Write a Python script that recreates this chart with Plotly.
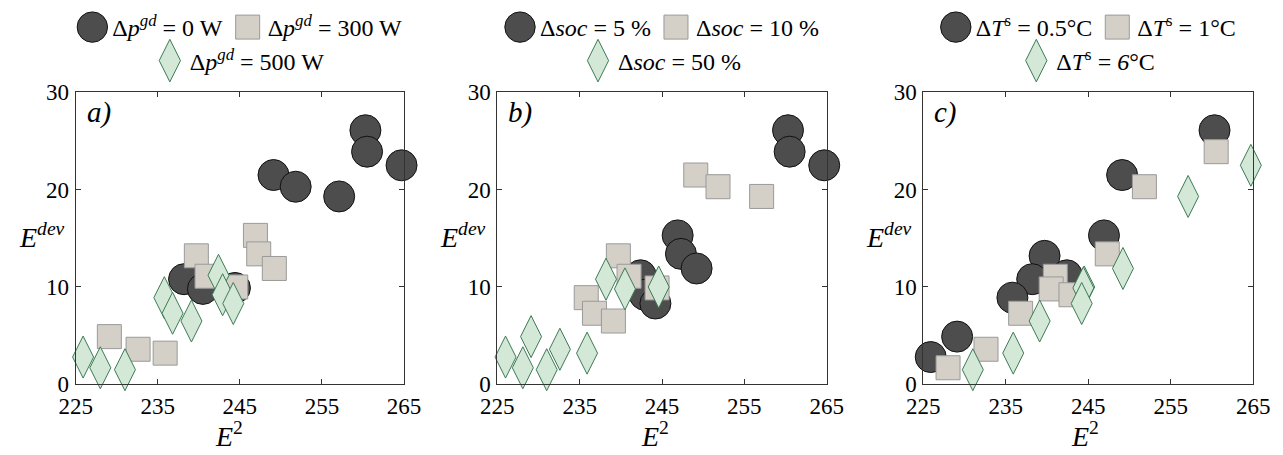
import plotly.graph_objects as go

# ---------------- data (E^2 vs E^dev) ----------------
# panel a) grouped by Δp^gd
a_circle_x = [260.3, 260.5, 264.7, 249.1, 251.8, 257.1, 238.2, 240.5, 244.4]
a_circle_y = [26.1, 23.9, 22.5, 21.5, 20.3, 19.3, 10.8, 9.8, 9.9]
a_square_x = [246.9, 247.3, 249.2, 239.7, 241.0, 244.5, 229.1, 232.6, 235.9]
a_square_y = [15.3, 13.4, 11.9, 13.2, 11.1, 10.0, 4.9, 3.6, 3.2]
a_diamond_x = [225.9, 228.0, 231.0, 235.8, 236.8, 239.1, 242.4, 242.9, 244.2]
a_diamond_y = [2.8, 1.7, 1.5, 8.9, 7.3, 6.5, 11.2, 9.2, 8.3]

# panel b) grouped by Δsoc
b_circle_x = [260.3, 260.5, 264.7, 246.9, 247.3, 249.2, 242.4, 242.9, 244.2]
b_circle_y = [26.1, 23.9, 22.5, 15.3, 13.4, 11.9, 11.2, 9.2, 8.3]
b_square_x = [249.1, 251.8, 257.1, 239.7, 241.0, 244.4, 235.8, 236.8, 239.1]
b_square_y = [21.5, 20.3, 19.3, 13.2, 11.1, 9.9, 8.9, 7.3, 6.5]
b_diamond_x = [238.2, 240.5, 244.6, 226.0, 228.1, 229.1, 231.0, 232.6, 235.9]
b_diamond_y = [10.8, 9.8, 10.0, 2.8, 1.7, 4.9, 1.5, 3.6, 3.2]

# panel c) grouped by ΔT^s
c_circle_x = [260.3, 249.1, 246.9, 239.7, 238.2, 242.4, 235.8, 229.1, 225.9]
c_circle_y = [26.1, 21.5, 15.3, 13.2, 10.8, 11.2, 8.9, 4.9, 2.8]
c_square_x = [260.5, 251.8, 247.3, 241.0, 240.5, 242.9, 236.8, 232.6, 228.0]
c_square_y = [23.9, 20.3, 13.4, 11.1, 9.8, 9.2, 7.3, 3.6, 1.7]
c_diamond_x = [264.7, 257.1, 249.2, 244.5, 244.4, 244.2, 239.1, 235.9, 231.0]
c_diamond_y = [22.5, 19.3, 11.9, 10.0, 9.9, 8.3, 6.5, 3.2, 1.5]

a_names = ["Δ<i>p</i><sup><i>gd</i></sup> = 0 W",
           "Δ<i>p</i><sup><i>gd</i></sup> = 300 W",
           "Δ<i>p</i><sup><i>gd</i></sup> = 500 W"]
b_names = ["Δ<i>soc</i> = 5 %", "Δ<i>soc</i> = 10 %", "Δ<i>soc</i> = 50 %"]
c_names = ["Δ<i>T</i><sup>s</sup> = 0.5°C", "Δ<i>T</i><sup>s</sup> = 1°C",
           "Δ<i>T</i><sup>s</sup> = <i>6</i>°C"]
panel_labels = ["a)", "b)", "c)"]

x_ticks = [225, 235, 245, 255, 265]
y_ticks = [0, 10, 20, 30]
x_range = [225, 265]
y_range = [0, 30]

# ---------------- styling ----------------
FONT = "Liberation Serif, Times New Roman, Liberation Sans, Arimo, Arial, sans-serif"
W, H = 1283, 455
styles = [
    dict(symbol="circle", size=31, color="#4d4d4d", line=dict(color="#111111", width=1)),
    dict(symbol="square", size=24, color="#d4d0c8", line=dict(color="#9a9a9a", width=1)),
    dict(symbol="diamond-tall", size=30, color="#d3e8d7", line=dict(color="#3d7a55", width=1)),
]
# panel plot areas in pixels (left, right), shared top/bottom
px_lr = [(75.7, 404.0), (497.3, 826.7), (923.3, 1253.3)]
top_px, bot_px = 92.3, 384.3

panels = [
    ([a_circle_x, a_square_x, a_diamond_x], [a_circle_y, a_square_y, a_diamond_y], a_names),
    ([b_circle_x, b_square_x, b_diamond_x], [b_circle_y, b_square_y, b_diamond_y], b_names),
    ([c_circle_x, c_square_x, c_diamond_x], [c_circle_y, c_square_y, c_diamond_y], c_names),
]

fig = go.Figure()
layout = dict(
    width=W, height=H, margin=dict(l=0, r=0, t=0, b=0, pad=0, autoexpand=False),
    paper_bgcolor="white", plot_bgcolor="white", showlegend=True,
    font=dict(family=FONT, color="black"),
)
annotations = []

for i, (xs, ys, names) in enumerate(panels):
    sfx = "" if i == 0 else str(i + 1)
    leg_row1 = "legend" if i == 0 else f"legend{2 * i + 1}"
    leg_row2 = f"legend{2 * i + 2}"
    for k in range(3):
        fig.add_trace(go.Scatter(
            x=xs[k], y=ys[k], mode="markers", name=names[k],
            marker=styles[k], cliponaxis=False,
            xaxis="x" + sfx, yaxis="y" + sfx,
            legend=leg_row1 if k < 2 else leg_row2,
        ))
    l, r = px_lr[i]
    axis_common = dict(
        showline=True, linecolor="#333333", linewidth=1, mirror="ticks",
        ticks="inside", ticklen=5, tickcolor="#333333", tickwidth=1,
        showgrid=False, zeroline=False, automargin=False,
        tickfont=dict(family=FONT, size=23, color="black"),
    )
    layout["xaxis" + sfx] = dict(domain=[l / W, r / W], range=x_range, tickvals=x_ticks,
                                 anchor="y" + sfx, ticklabelstandoff=1, **axis_common)
    layout["yaxis" + sfx] = dict(domain=[1 - bot_px / H, 1 - top_px / H], range=y_range,
                                 tickvals=y_ticks, anchor="x" + sfx, ticklabelstandoff=1,
                                 **axis_common)
    cx = (l + r) / 2 / W
    legend_common = dict(orientation="h", xanchor="center", yanchor="middle",
                         bgcolor="rgba(0,0,0,0)", itemwidth=30, tracegroupgap=0,
                         font=dict(family=FONT, size=24, color="black"))
    layout[leg_row1] = dict(x=cx, y=1 - 27.5 / H, **legend_common)
    layout[leg_row2] = dict(x=cx, y=1 - 61 / H, **legend_common)

    xd, yd = f"x{sfx} domain", f"y{sfx} domain"
    annotations.append(dict(text=f"<i>{panel_labels[i]}</i>", xref=xd, yref=yd, x=0, y=1,
                            xanchor="left", yanchor="top", xshift=9, yshift=-2, showarrow=False,
                            font=dict(family=FONT, size=29, color="black")))
    annotations.append(dict(text="<i>E</i><sup><i>dev</i></sup>", xref=xd, yref=yd, x=0, y=0.5,
                            xanchor="right", yanchor="middle", xshift=-9, yshift=3,
                            showarrow=False, font=dict(family=FONT, size=28, color="black")))
    annotations.append(dict(text="<i>E</i><sup>2</sup>", xref=xd, yref=yd, x=0.5, y=0,
                            xanchor="center", yanchor="bottom", yshift=-(H - bot_px) + 1,
                            xshift=[-11, -7, -3][i],
                            showarrow=False, font=dict(family=FONT, size=28, color="black")))

layout["annotations"] = annotations
fig.update_layout(**layout)

# page without body margin; enlarge the legend symbols (plotly caps them at 16 px)
post = """
document.body.style.margin = '0';
var gd = document.getElementsByClassName('plotly-graph-div')[0];
gd.querySelectorAll('.legendpoints path.scatterpts').forEach(function(p){
  var d = p.getAttribute('d') || '';
  var s = d.indexOf('A') >= 0 ? 1.9 : (d.indexOf('H') >= 0 ? 1.5 : 1.9);
  var t = p.getAttribute('transform') || '';
  p.setAttribute('transform', t + ' scale(' + s + ')');
  p.style.vectorEffect = 'non-scaling-stroke';
});
"""
fig.write_html("out.html", post_script=post, config={"displayModeBar": False})
